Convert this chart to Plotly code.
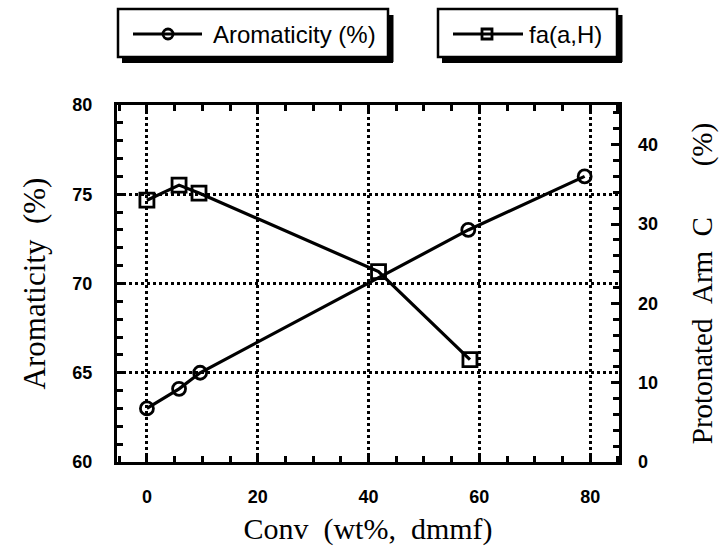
import plotly.graph_objects as go

# ---- data ----
conv_arom = [0, 5.8, 9.6, 58.0, 79.0]
aromaticity = [63.0, 64.1, 65.0, 73.0, 76.0]
conv_fa = [0, 5.8, 9.4, 41.8, 58.3]
fa_aH = [33.0, 34.9, 33.9, 24.0, 12.9]

x_ticks = [0, 20, 40, 60, 80]
yl_ticks = [60, 65, 70, 75, 80]
yr_ticks = [0, 10, 20, 30, 40]

W, H = 719, 548
L, R, T, B = 117, 619, 105, 462  # plot area in pixels

def px(x):
    return (x - L) / (R - L)

def py(y):
    return (B - y) / (B - T)

NB = "\u00a0"
tick_font = dict(family="Liberation Sans", size=18, color="black", weight=700)
serif = "Liberation Serif, Times New Roman, serif"

fig = go.Figure()
fig.add_trace(go.Scatter(
    x=conv_arom, y=aromaticity, name="Aromaticity (%)", mode="lines+markers",
    line=dict(color="black", width=3.2),
    marker=dict(symbol="circle-open", size=13, color="black", line=dict(width=2.8)),
    xaxis="x", yaxis="y", showlegend=False))
fig.add_trace(go.Scatter(
    x=conv_fa, y=fa_aH, name="fa(a,H)", mode="lines+markers",
    line=dict(color="black", width=3.2),
    marker=dict(symbol="square-open", size=14, color="black", line=dict(width=2.8)),
    xaxis="x", yaxis="y2", showlegend=False))
# invisible trace to activate top x axis
fig.add_trace(go.Scatter(x=[None], y=[None], xaxis="x2", yaxis="y", showlegend=False, hoverinfo="skip"))

xr = [-5.4, 85.2]
tk = dict(ticks="inside", ticklen=8, tickwidth=2.5, tickcolor="black", automargin=False)
fig.update_layout(
    width=W, height=H,
    margin=dict(l=L, r=W - R, t=T, b=H - B, autoexpand=False),
    paper_bgcolor="white", plot_bgcolor="white",
    xaxis=dict(
        range=xr, tickvals=x_ticks, ticktext=[str(v) for v in x_ticks], **tk,
        minor=dict(dtick=5, tick0=0, ticks="inside", ticklen=6, tickwidth=2.5, tickcolor="black", showgrid=False),
        showgrid=True, gridcolor="black", gridwidth=2.5, griddash="dot",
        showline=True, linecolor="black", linewidth=3, mirror=True,
        zeroline=False, tickfont=tick_font, ticklabelstandoff=16,
        title=dict(text="Conv" + NB * 2 + "(wt%," + NB * 2 + "dmmf)",
                   font=dict(family=serif, size=30, color="black"), standoff=13),
    ),
    xaxis2=dict(
        range=xr, overlaying="x", side="top", tickvals=x_ticks, showticklabels=False, **tk,
        minor=dict(dtick=5, tick0=0, ticks="inside", ticklen=6, tickwidth=2.5, tickcolor="black", showgrid=False),
        showgrid=False, zeroline=False, showline=False,
    ),
    yaxis=dict(
        range=[60, 80], tickvals=yl_ticks, ticktext=[str(v) for v in yl_ticks], **tk,
        minor=dict(dtick=1, tick0=60, ticks="inside", ticklen=6, tickwidth=2.5, tickcolor="black", showgrid=False),
        showgrid=True, gridcolor="black", gridwidth=2.5, griddash="dot",
        showline=True, linecolor="black", linewidth=3, mirror=True,
        zeroline=False, tickfont=tick_font, ticklabelstandoff=18,
        title=dict(text="Aromaticity" + NB * 2 + "(%)",
                   font=dict(family=serif, size=31, color="black"), standoff=18),
    ),
    yaxis2=dict(
        range=[0, 45], overlaying="y", side="right", tickvals=yr_ticks,
        ticktext=[str(v) for v in yr_ticks], **tk,
        minor=dict(dtick=2, tick0=0, ticks="inside", ticklen=6, tickwidth=2.5, tickcolor="black", showgrid=False),
        showgrid=False, zeroline=False, showline=False,
        tickfont=tick_font, ticklabelstandoff=18,
        title=dict(text="Protonated" + NB * 2 + "Arm" + NB * 2 + "C" + NB * 7 + "(%)",
                   font=dict(family=serif, size=29, color="black"), standoff=40),
    ),
)

# ---- legend boxes (drawn manually to mimic the boxed, shadowed legends) ----
shapes = []
annotations = []
legend_items = [
    dict(x0=118, x1=388, y0=9, y1=57, lx0=133, lx1=202, mx=168, sym="circle", text="Aromaticity (%)", tx=211),
    dict(x0=438, x1=617, y0=9, y1=57, lx0=453, lx1=523, mx=487, sym="rect", text="fa(a,H)", tx=527),
]
for it in legend_items:
    # drop shadow: thick bottom and right edges
    shapes.append(dict(type="line", xref="paper", yref="paper",
                       x0=px(it["x0"] + 4), x1=px(it["x1"] + 5), y0=py(it["y1"] + 3), y1=py(it["y1"] + 3),
                       line=dict(color="black", width=6), layer="above"))
    shapes.append(dict(type="line", xref="paper", yref="paper",
                       x0=px(it["x1"] + 3), x1=px(it["x1"] + 3), y0=py(it["y0"] + 6), y1=py(it["y1"] + 5),
                       line=dict(color="black", width=5), layer="above"))
    shapes.append(dict(type="rect", xref="paper", yref="paper",
                       x0=px(it["x0"]), x1=px(it["x1"]), y0=py(it["y1"]), y1=py(it["y0"]),
                       fillcolor="white", line=dict(color="black", width=2.5), layer="above"))
    yc = (it["y0"] + it["y1"]) / 2 + 1
    shapes.append(dict(type="line", xref="paper", yref="paper",
                       x0=px(it["lx0"]), x1=px(it["lx1"]), y0=py(yc), y1=py(yc),
                       line=dict(color="black", width=3), layer="above"))
    r = 5
    shapes.append(dict(type=it["sym"], xref="paper", yref="paper",
                       x0=px(it["mx"] - r), x1=px(it["mx"] + r), y0=py(yc + r), y1=py(yc - r),
                       fillcolor="rgba(0,0,0,0)", line=dict(color="black", width=2.8), layer="above"))
    annotations.append(dict(xref="paper", yref="paper", x=px(it["tx"]), y=py(yc),
                            xanchor="left", yanchor="middle", showarrow=False, text=it["text"],
                            font=dict(family="Liberation Sans", size=24, color="black")))

fig.update_layout(shapes=shapes, annotations=annotations)
fig.write_html("out.html")
